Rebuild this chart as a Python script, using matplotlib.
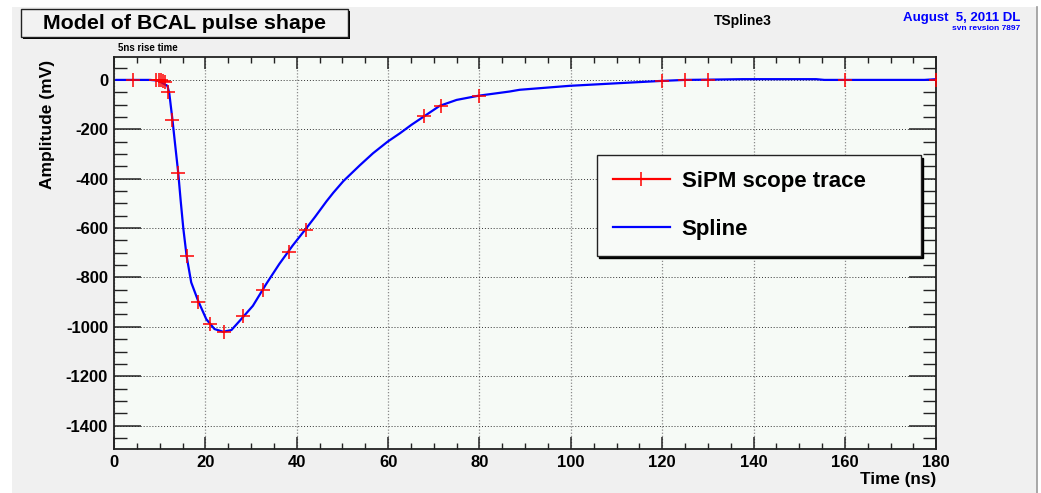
import matplotlib
matplotlib.use("Agg")
import matplotlib.pyplot as plt
from matplotlib.patches import Rectangle
from matplotlib.lines import Line2D
from matplotlib.ticker import MultipleLocator

plt.rcParams["axes.unicode_minus"] = False

# ---- data ----
trace_t = [4.2, 9.3, 9.8, 10.3, 10.8, 11.2, 11.9, 12.8, 14.0, 15.9, 18.4, 21.0,
           24.1, 28.3, 32.6, 38.2, 42.0, 67.9, 71.5, 79.8, 120, 125, 130, 160, 180]
trace_mv = [0, 0, 0, -2, -4, -8, -50, -163, -379, -714, -901, -989,
            -1020, -958, -850, -696, -606, -145, -104, -64, -4, 0, 0, 0, 0]

spline_t = [0.5, 7.9, 9.7, 11.7, 12.1, 12.8, 13.4, 14.07, 14.6, 15.17, 15.9, 16.9,
            18.4, 20.2, 22.0, 23.9, 25.7, 27.5, 30.4, 33.3, 36.2, 39.1, 42.0, 44.0,
            46.5, 48.0, 50.2, 53.8, 56.7, 59.9, 62.6, 65.1, 68.0, 71.3, 75.0, 79.8,
            86.6, 88.8, 99.7, 110.7, 119.9, 125, 130, 137.6, 153.7, 155.5, 177.4, 180]
spline_mv = [0, 0, -3, -24, -54, -162, -265, -378, -490, -601, -714, -820,
             -894, -969, -1009, -1020, -1013, -976, -915, -827, -745, -671, -603, -555,
             -492, -457, -410, -346, -297, -250, -216, -182, -146, -105, -81, -64,
             -47, -40, -24, -13, -4, 0, 1, 3, 3, 0, 0, 3]

x_major = [0, 20, 40, 60, 80, 100, 120, 140, 160, 180]
y_major = [0, -200, -400, -600, -800, -1000, -1200, -1400]

W, H = 1041, 493
fig = plt.figure(figsize=(W / 100, H / 100), dpi=100, facecolor="white")
FONT = "Liberation Sans"

def fx(px):
    return px / W

def fy(py):
    return 1 - py / H

# canvas background
fig.patches.append(Rectangle((fx(12), 0), fx(1037) - fx(12), fy(7), transform=fig.transFigure,
                             facecolor="#f0f0f0", edgecolor="none", zorder=-10))
fig.lines.append(Line2D([fx(1037), fx(1037)], [0, fy(7)], transform=fig.transFigure,
                        color="#9a9a9a", lw=1.2))

# title box with shadow
bx0, bx1, by0, by1 = 20.7, 347.7, 9, 36.7
fig.patches.append(Rectangle((fx(bx0 + 2), fy(by1 + 2)), fx(bx1 - bx0), fy(by0) - fy(by1),
                             transform=fig.transFigure, facecolor="black", edgecolor="none", zorder=1))
fig.patches.append(Rectangle((fx(bx0), fy(by1)), fx(bx1 - bx0), fy(by0) - fy(by1),
                             transform=fig.transFigure, facecolor="#f2f2f2", edgecolor="#222222",
                             lw=1.0, zorder=2))
fig.text(fx((bx0 + bx1) / 2), fy((by0 + by1) / 2 + 0.5), "Model of BCAL pulse shape",
         ha="center", va="center", fontsize=15.4, fontweight="bold", family=FONT, zorder=3)

fig.text(fx(118), fy(48), "5ns rise time", ha="left", va="center", fontsize=7,
         fontweight="bold", family=FONT)
fig.text(fx(743), fy(21), "TSpline3", ha="center", va="center", fontsize=10,
         fontweight="bold", family=FONT)
fig.text(fx(1020), fy(18), "August  5, 2011 DL", ha="right", va="center", fontsize=9.5,
         fontweight="bold", family=FONT, color="#0000ff")
fig.text(fx(1020), fy(29), "svn revsion 7897", ha="right", va="center", fontsize=6,
         fontweight="bold", family=FONT, color="#0000ff")

# axes
left, right, top, bottom = 114, 936.3, 56.7, 449.3
ax = fig.add_axes([fx(left), fy(bottom), fx(right - left), fy(top) - fy(bottom)])
ax.set_facecolor("#f6faf6")
ax.set_xlim(0, 180)
ax.set_ylim(-1496, 94)

ax.plot(spline_t, spline_mv, color="#0000ff", lw=1.6, zorder=3, label="Spline")
ax.plot(trace_t, trace_mv, linestyle="none", marker="+", markersize=10.5,
        markeredgewidth=1.1, color="#ff0000", zorder=4, label="SiPM scope trace")

ax.set_xticks(x_major)
ax.set_yticks(y_major)
ax.xaxis.set_minor_locator(MultipleLocator(5))
ax.yaxis.set_minor_locator(MultipleLocator(50))
ax.tick_params(axis="x", which="major", direction="in", length=8.3, width=1.1, top=True,
               pad=4.3, labelsize=12, color="#222222")
ax.tick_params(axis="x", which="minor", direction="in", length=4.5, width=1.0, top=True,
               color="#222222")
ax.tick_params(axis="y", which="major", direction="in", length=19.4, width=1.1, right=True,
               pad=4.3, labelsize=12, color="#222222")
ax.tick_params(axis="y", which="minor", direction="in", length=9.1, width=1.0, right=True,
               color="#222222")
for lab in ax.get_xticklabels() + ax.get_yticklabels():
    lab.set_fontweight("bold")
    lab.set_family(FONT)

ax.grid(axis="x", which="major", color="#8a8a8a", linestyle=(0, (1, 1.5)), lw=0.9, zorder=1)
ax.grid(axis="y", which="major", color="#333333", linestyle=(0, (1, 2)), lw=0.7, zorder=1)
ax.set_axisbelow(True)
for s in ax.spines.values():
    s.set_linewidth(1.3)
    s.set_color("#222222")

ax.set_xlabel("Time (ns)", loc="right", fontsize=12.3, fontweight="bold", family=FONT)
ax.xaxis.set_label_coords(1.0, -0.058)
ax.set_ylabel("Amplitude (mV)", loc="top", fontsize=12.5, fontweight="bold", family=FONT)
ax.yaxis.set_label_coords(-0.0717, 0.992)

# legend
h_trace = Line2D([], [], color="#ff0000", lw=1.6, marker="|", markersize=10,
                 markeredgewidth=1.1)
h_spline = Line2D([], [], color="#0000ff", lw=1.6)
lx0, lx1, ly0 = 596.7, 920.7, 155
leg = ax.legend([h_trace, h_spline], ["SiPM scope trace", "Spline"], loc="upper left",
                bbox_to_anchor=(fx(lx0), fy(ly0), fx(lx1 - lx0), 0.0001),
                bbox_transform=fig.transFigure, mode="expand", borderaxespad=0,
                prop={"family": FONT, "weight": "bold", "size": 16},
                handlelength=2.56, handletextpad=0.55, labelspacing=1.2, borderpad=0.72,
                fancybox=False, framealpha=1, edgecolor="#222222", facecolor="#f8faf8",
                shadow={"color": "black", "alpha": 1})
leg.get_frame().set_linewidth(1.0)

fig.savefig("out.png", dpi=100, facecolor=fig.get_facecolor())
